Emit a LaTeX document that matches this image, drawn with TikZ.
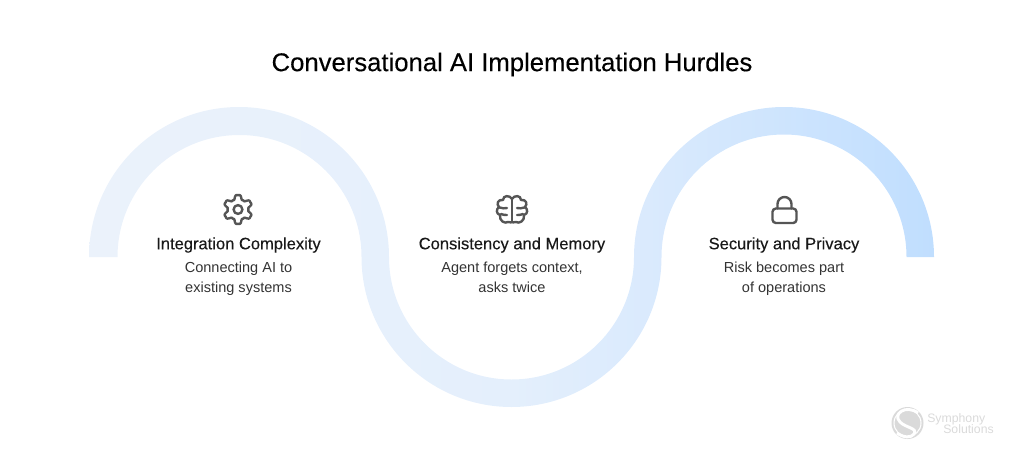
\documentclass[tikz,border=0pt]{standalone}
\usepackage{fontspec}
\setmainfont{Liberation Sans}
\newfontfamily\medfont[FakeBold=0.25]{Liberation Sans}
\definecolor{icongray}{RGB}{85,85,85}
\definecolor{logogray}{RGB}{218,218,218}
\definecolor{bandleft}{RGB}{235,242,251}
\definecolor{bandcentre}{RGB}{228,239,252}
\definecolor{bandknee}{RGB}{218,234,253}
\definecolor{bandright}{RGB}{192,222,254}
\pgfdeclarehorizontalshading{bandfade}{100bp}{
	color(0bp)=(bandleft);
	color(25bp)=(bandleft);
	color(50bp)=(bandcentre);
	color(58bp)=(bandknee);
	color(75bp)=(bandright);
	color(100bp)=(bandright)}
\tikzset{
	titletext/.style={font=\medfont\fontsize{19.25}{22}\selectfont,text=black,inner sep=0.75pt},
	headtext/.style={font=\medfont\fontsize{12.4}{14}\selectfont,text=black!90,inner sep=0.75pt},
	bodytext/.style={font=\fontsize{10.9}{15}\selectfont,text=black!80,align=center,inner sep=0.75pt},
	iconline/.style={draw=icongray,line width=1.8pt,line cap=round,line join=round},
	logotext/.style={font=\fontsize{9.2}{10}\selectfont,text=logogray,inner sep=0pt}
}
\begin{document}
\begin{tikzpicture}[x=0.75pt,y=0.75pt,yscale=-1,xscale=1]
	\useasboundingbox (0,0) rectangle (1024,471);
	
	%Shape: Wave band
	\path [shading=bandfade,shading angle=0]
		(89,257) arc (180:360:150) arc (180:0:122.5) arc (180:360:150)
		-- (906.5,257) arc (360:180:122.5) arc (0:180:150) arc (360:180:122) -- cycle;
	
	%Shape: Gear
	\draw [iconline] plot [domain=0:360,samples=145,smooth] ({238+(12.4+2.4*cos(6*\x)-0.5*cos(18*\x))*sin(\x)},{209.5-(12.4+2.4*cos(6*\x)-0.5*cos(18*\x))*cos(\x)}) -- cycle;
	\draw [iconline] (238,209.5) circle (4.4);
	
	%Shape: Brain
	\draw [iconline] (512,199) -- (512,222);
	\draw [iconline] (512,199) .. controls (510,195) and (503,195) .. (503,200) .. controls (498,199) and (496,204) .. (499,207) .. controls (496,209) and (496,214) .. (500,215) .. controls (499,221) and (505,224) .. (508,222) .. controls (510,222) and (512,223) .. (512,222);
	\draw [iconline] (512,199) .. controls (514,195) and (521,195) .. (521,200) .. controls (526,199) and (528,204) .. (525,207) .. controls (528,209) and (528,214) .. (524,215) .. controls (525,221) and (519,224) .. (516,222) .. controls (514,222) and (512,223) .. (512,222);
	\draw [iconline] (499.5,207.5) .. controls (502,208) and (505,209) .. (507,208) (507,215) .. controls (505,215) and (503,215) .. (501,214);
	\draw [iconline] (524.5,207.5) .. controls (522,208) and (519,209) .. (517,208) (517,215) .. controls (519,215) and (521,215) .. (523,214);
	
	%Shape: Lock
	\draw [iconline,rounded corners=2.5] (772.5,208.5) rectangle (796.5,223);
	\draw [iconline] (777.5,208.5) -- (777.5,204) arc (180:360:7) -- (791.5,208.5);
	
	% Text Node
	\node [titletext] (title) at (512,64.5) {Conversational AI Implementation Hurdles};
	% Text Node
	\node [headtext] (headone) at (238.5,245) {Integration Complexity};
	\node [bodytext,below=0pt] (bodyone) at (238.5,261) {Connecting AI to\\existing systems};
	% Text Node
	\node [headtext] (headtwo) at (512,245) {Consistency and Memory};
	\node [bodytext,below=0pt] (bodytwo) at (512,261) {Agent forgets context,\\asks twice};
	% Text Node
	\node [headtext] (headthree) at (784,245) {Security and Privacy};
	\node [bodytext,below=0pt] (bodythree) at (784,261) {Risk becomes part\\of operations};
	
	%Shape: Logo disc
	\fill [logogray] (907.5,423) circle (16);
	\draw [white,line width=0.8pt] (907.5,423) circle (13.5);
	\draw [white,line width=2.2pt] (918,413) .. controls (906,404) and (892,414) .. (900,422) .. controls (906,428) and (918,428) .. (914,434) .. controls (911,438) and (904,438) .. (897,433);
	% Text Node
	\node [logotext,anchor=west] (logoone) at (927,419) {Symphony};
	\node [logotext,anchor=west] (logotwo) at (943,429) {Solutions};
\end{tikzpicture}
\end{document}
